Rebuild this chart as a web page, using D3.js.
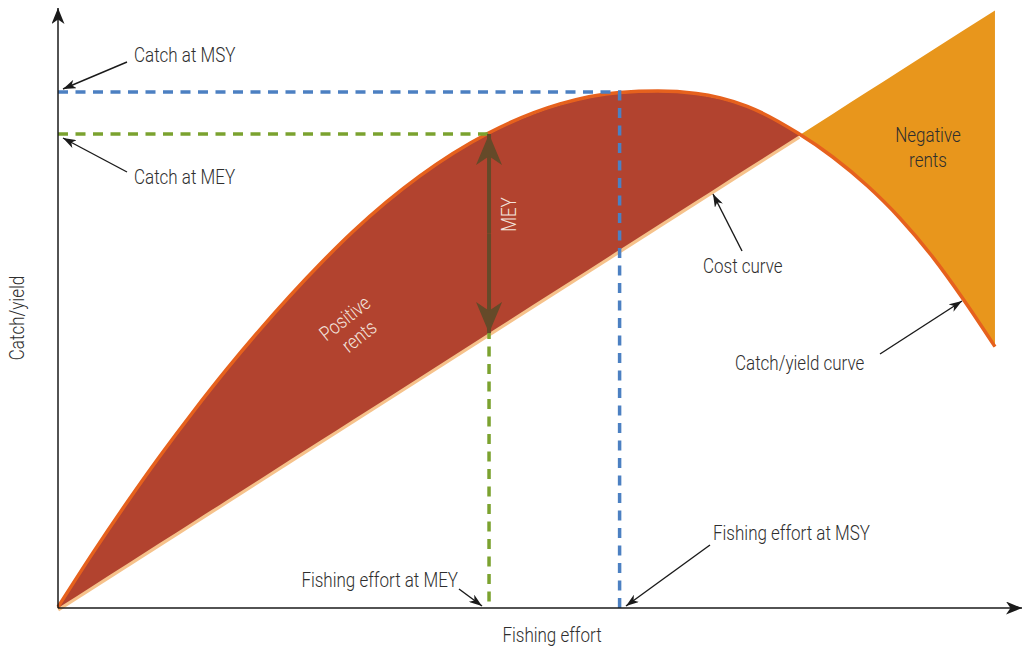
<!DOCTYPE html>
<html>
<head>
<meta charset="utf-8">
<script src="https://cdn.jsdelivr.net/npm/d3@7"></script>
<style>
  html, body { margin: 0; padding: 0; background: #fff; }
  svg { display: block; }
  text { font-family: Roboto, 'DejaVu Sans Condensed', sans-serif; font-weight: 300; font-size: 20px; fill: #2e2e2e; }
</style>
</head>
<body>
<svg id="chart" width="1024" height="646"></svg>
<script>
// effort and catch (units 0-100 on both axes)
const effort = [0, 3.65, 7.2, 10.6, 14.1, 17.6, 21.0, 27.3, 30.7, 37.7, 44.7, 52.3, 58.5, 62.5, 66.5, 69.0, 71.8, 77.1, 80.7, 84.3, 87.7, 91.2, 94.3, 97.6];
const catchYield = [0, 9.06, 17.45, 25.12, 32.59, 39.68, 46.16, 57.17, 62.54, 71.85, 78.87, 83.85, 85.76, 86.0, 85.6, 84.85, 83.45, 78.95, 75.0, 70.2, 64.8, 58.15, 51.3, 43.4];
const costEffort = [0, 97.6];
const costValue = [0, 99.6];
const breakEven = 77.2;
const msy = { effort: 58.5, catch: 86.0 };
const mey = { effort: 44.9, catch: 79.0 };

const svg = d3.select('#chart');
const x = d3.scaleLinear().domain([0, 100]).range([58, 1018]);
const y = d3.scaleLinear().domain([0, 100]).range([608, 8]);

const cost = d3.scaleLinear().domain(costEffort).range(costValue);
const curve = effort.map((e, i) => ({ e, c: catchYield[i] }));
const smooth = d3.curveMonotoneX;

const squeeze = 0.85; // narrow the font, the source uses a condensed face

function label(parent, str, px, py, anchor, rot) {
  return parent.append('text')
    .attr('transform', `translate(${px},${py})${rot ? ` rotate(${rot})` : ''} scale(${squeeze},1)`)
    .attr('text-anchor', anchor || 'start')
    .text(str);
}

const defs = svg.append('defs');
function arrowMarker(id, color, len, half) {
  defs.append('marker')
    .attr('id', id)
    .attr('viewBox', `${-len} ${-half} ${len} ${half * 2}`)
    .attr('refX', 0).attr('refY', 0)
    .attr('markerWidth', len).attr('markerHeight', half * 2)
    .attr('markerUnits', 'userSpaceOnUse')
    .attr('orient', 'auto')
    .append('path')
    .attr('d', `M0,0L${-len},${-half}L${-len * 0.72},0L${-len},${half}Z`)
    .attr('fill', color);
}
arrowMarker('axisArrow', '#1a1a1a', 16, 6.5);
arrowMarker('noteArrow', '#1a1a1a', 13, 4.5);
arrowMarker('meyArrow', '#654a29', 31, 13);

// the positive/negative areas are clipped from one area over the whole curve
const clipPos = defs.append('clipPath').attr('id', 'clipPos');
clipPos.append('rect').attr('x', 0).attr('y', 0).attr('width', x(breakEven)).attr('height', 646);
const clipNeg = defs.append('clipPath').attr('id', 'clipNeg');
clipNeg.append('rect').attr('x', x(breakEven)).attr('y', 0).attr('width', 1024 - x(breakEven)).attr('height', 646);

const band = d3.area()
  .x(d => x(d.e))
  .y0(d => y(cost(d.e)))
  .y1(d => y(d.c))
  .curve(smooth);

// cost line, sits just under the fill
svg.append('line')
  .attr('x1', x(costEffort[0])).attr('y1', y(costValue[0]) + 1.5)
  .attr('x2', x(breakEven)).attr('y2', y(cost(breakEven)) + 1.5)
  .attr('stroke', '#f6c28b').attr('stroke-width', 4);

svg.append('path')
  .datum(curve)
  .attr('d', band)
  .attr('clip-path', 'url(#clipPos)')
  .attr('fill', '#b2432f');

svg.append('path')
  .datum(curve)
  .attr('d', band)
  .attr('clip-path', 'url(#clipNeg)')
  .attr('fill', '#e8961c');

// catch/yield curve
svg.append('path')
  .datum(curve)
  .attr('d', d3.line().x(d => x(d.e)).y(d => y(d.c)).curve(smooth))
  .attr('fill', 'none')
  .attr('stroke', '#e6611d')
  .attr('stroke-width', 3.5)
  .attr('transform', 'translate(0,-1)');

// dashed reference lines
const dash = '10,7.5';
svg.append('path')
  .attr('d', `M${x(0)},${y(msy.catch)}H${x(msy.effort)}V${y(0)}`)
  .attr('fill', 'none').attr('stroke', '#4c80c2').attr('stroke-width', 3.5).attr('stroke-dasharray', dash);
svg.append('path')
  .attr('d', `M${x(0)},${y(mey.catch)}H${x(mey.effort)}`)
  .attr('fill', 'none').attr('stroke', '#7ba22f').attr('stroke-width', 3.5).attr('stroke-dasharray', dash);
svg.append('path')
  .attr('d', `M${x(mey.effort)},${y(cost(mey.effort))}V${y(0)}`)
  .attr('fill', 'none').attr('stroke', '#7ba22f').attr('stroke-width', 3.5).attr('stroke-dasharray', dash)
  .attr('stroke-dashoffset', 4);

// MEY double arrow
const midMey = (y(mey.catch) + y(cost(mey.effort))) / 2;
[y(mey.catch), y(cost(mey.effort))].forEach(end => {
  svg.append('line')
    .attr('x1', x(mey.effort)).attr('y1', midMey)
    .attr('x2', x(mey.effort)).attr('y2', end)
    .attr('stroke', '#654a29').attr('stroke-width', 4).attr('marker-end', 'url(#meyArrow)');
});

label(svg, 'MEY', x(mey.effort) + 27, midMey - 19, 'middle', -90).style('fill', '#f3e4dd');

// axes
svg.append('line')
  .attr('x1', x(0)).attr('y1', y(0)).attr('x2', x(0)).attr('y2', y(100))
  .attr('stroke', '#1a1a1a').attr('stroke-width', 1.5).attr('marker-end', 'url(#axisArrow)');
svg.append('line')
  .attr('x1', x(0)).attr('y1', y(0)).attr('x2', x(100) + 4).attr('y2', y(0))
  .attr('stroke', '#1a1a1a').attr('stroke-width', 1.5).attr('marker-end', 'url(#axisArrow)');

label(svg, 'Catch/yield', 24, 318, 'middle', -90);
label(svg, 'Fishing effort', 552, 642, 'middle');

// annotations: label text, position, anchor, arrow from -> to
const notes = [
  { t: 'Catch at MSY', x: 134, y: 62, a: 'start', from: [127, 62], to: [63, 89] },
  { t: 'Catch at MEY', x: 134, y: 184, a: 'start', from: [127, 172], to: [63, 138] },
  { t: 'Cost curve', x: 703, y: 273, a: 'start', from: [742, 251], to: [713, 194] },
  { t: 'Catch/yield curve', x: 735, y: 370, a: 'start', from: [880, 354], to: [962, 301] },
  { t: 'Fishing effort at MEY', x: 458, y: 587, a: 'end', from: [459, 589], to: [482, 606] },
  { t: 'Fishing effort at MSY', x: 713, y: 540, a: 'start', from: [710, 545], to: [626, 606] }
];
notes.forEach(n => {
  svg.append('line')
    .attr('x1', n.from[0]).attr('y1', n.from[1])
    .attr('x2', n.to[0]).attr('y2', n.to[1])
    .attr('stroke', '#1a1a1a').attr('stroke-width', 1.4)
    .attr('marker-end', 'url(#noteArrow)');
  label(svg, n.t, n.x, n.y, n.a);
});

// region labels
label(svg, 'Negative', 928, 142, 'middle');
label(svg, 'rents', 928, 167, 'middle');

const pos = svg.append('g').attr('transform', 'translate(351,326) rotate(-38.5)');
label(pos, 'Positive', 0, -3, 'middle').style('fill', '#f3e4dd');
label(pos, 'rents', 0, 20, 'middle').style('fill', '#f3e4dd');
</script>
</body>
</html>
